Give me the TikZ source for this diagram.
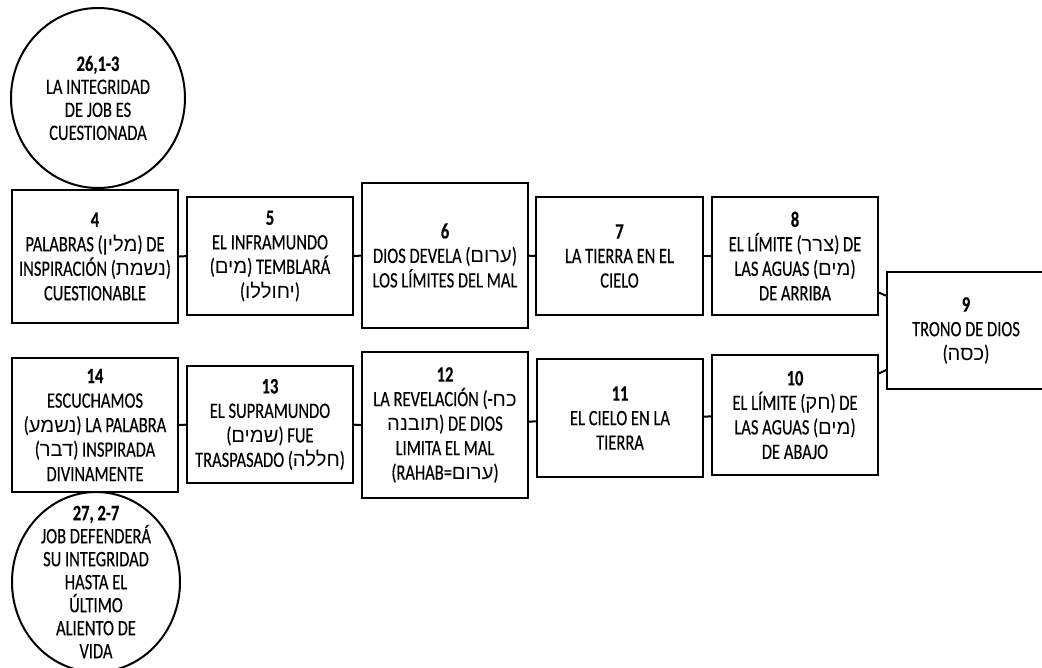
\documentclass[tikz,border=0pt]{standalone}
\usepackage{fontspec}
\setmainfont{Carlito}[FakeStretch=0.75,FakeBold=0.3]
\newfontfamily\hebfont[Script=Hebrew,Scale=0.92]{Liberation Sans}
\TeXXeTstate=1
\newcommand{\heb}[1]{{\hebfont\beginR #1\endR}}
\usetikzlibrary{shapes.geometric}
\tikzset{
  box/.style={draw, line width=2pt, align=center, inner sep=0pt, fill=white,
    font=\fontsize{22}{24.5}\selectfont},
  ring/.style={draw, ellipse, line width=2pt, inner sep=0pt},
  ringtext/.style={align=center, inner sep=0pt, font=\fontsize{22}{23}\selectfont},
  conn/.style={draw, line width=2pt},
}
\begin{document}
\begin{tikzpicture}[x=1pt,y=-1pt]
\useasboundingbox (0,0) rectangle (1042,667);
% top row
\node[box, minimum width=166pt, minimum height=133pt] (b4) at (95,256.5)
  {\textbf{4}\\PALABRAS (\heb{מלין}) DE\\INSPIRACIÓN (\heb{נשמת})\\CUESTIONABLE};
\node[box, minimum width=166pt, minimum height=118pt] (b5) at (270,256)
  {\textbf{5}\\EL INFRAMUNDO\\(\heb{מים}) TEMBLARÁ\\(\heb{יחוללו})};
\node[box, minimum width=166pt, minimum height=145pt] (b6) at (445,255.5)
  {\textbf{6}\\DIOS DEVELA (\heb{ערום})\\LOS LÍMITES DEL MAL};
\node[box, minimum width=167pt, minimum height=118pt] (b7) at (619.5,256)
  {\textbf{7}\\LA TIERRA EN EL\\CIELO};
\node[box, minimum width=166pt, minimum height=118pt] (b8) at (795,256)
  {\textbf{8}\\EL LÍMITE (\heb{צרר}) DE\\LAS AGUAS (\heb{מים})\\DE ARRIBA};
\node[box, minimum width=158pt, minimum height=117pt] (b9) at (966,330.5)
  {\textbf{9}\\TRONO DE DIOS\\(\heb{כסה})};
% bottom row
\node[box, minimum width=166pt, minimum height=120pt] (b10) at (795,415)
  {\textbf{10}\\EL LÍMITE (\heb{חק}) DE\\LAS AGUAS (\heb{מים})\\DE ABAJO};
\node[box, minimum width=166pt, minimum height=118pt] (b11) at (620,418)
  {\textbf{11}\\EL CIELO EN LA\\TIERRA};
\node[box, minimum width=166pt, minimum height=146pt] (b12) at (445,425)
  {\textbf{12}\\LA REVELACIÓN (-\heb{כח}\\\heb{תובנה}) DE DIOS\\LIMITA EL MAL\\(RAHAB=\heb{ערום})};
\node[box, minimum width=166pt, minimum height=117pt] (b13) at (270,424.5)
  {\textbf{13}\\EL SUPRAMUNDO\\(\heb{שמים}) FUE\\TRASPASADO (\heb{חללה})};
\node[box, minimum width=166pt, minimum height=134pt] (b14) at (95,425)
  {\textbf{14}\\ESCUCHAMOS\\(\heb{נשמע}) LA PALABRA\\(\heb{דבר}) INSPIRADA\\DIVINAMENTE};
% circles
\node[ring, minimum width=174pt, minimum height=180pt] (c1) at (98,98) {};
\node[ringtext] (t1) at (c1.center)
  {\textbf{26,1-3}\\LA INTEGRIDAD\\DE JOB ES\\CUESTIONADA};
\node[ring, minimum width=168pt, minimum height=180pt] (c2) at (96,582) {};
\node[ringtext] (t2) at (c2.center)
  {\textbf{27, 2-7}\\JOB DEFENDERÁ\\SU INTEGRIDAD\\HASTA EL\\ÚLTIMO\\ALIENTO DE\\VIDA};
% connectors
\draw[conn] (b4) -- (b5);
\draw[conn] (b5) -- (b6);
\draw[conn] (b6) -- (b7);
\draw[conn] (b7) -- (b8);
\draw[conn] (b8) -- (b9);
\draw[conn] (b10) -- (b9);
\draw[conn] (b11) -- (b10);
\draw[conn] (b12) -- (b11);
\draw[conn] (b13) -- (b12);
\draw[conn] (b14) -- (b13);
\end{tikzpicture}
\end{document}
